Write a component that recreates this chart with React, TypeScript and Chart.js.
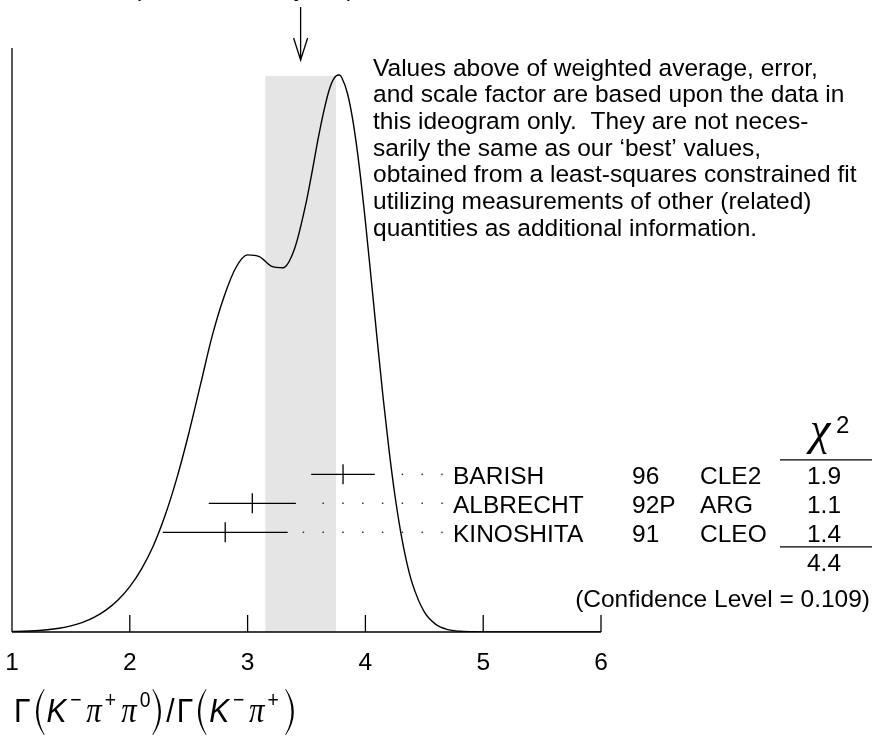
import React, { useEffect, useRef } from "react";
import { Chart, registerables } from "chart.js";

Chart.register(...registerables);

// ---------------- data ----------------
const curveX = [
  1.0, 1.1, 1.2, 1.3, 1.4, 1.5, 1.6, 1.7, 1.8, 1.9, 2.0, 2.1, 2.2, 2.3, 2.4, 2.5,
  2.6, 2.7, 2.8, 2.9, 3.0, 3.1, 3.2, 3.3, 3.4, 3.5, 3.55, 3.6, 3.65, 3.7, 3.75,
  3.78, 3.8, 3.85, 3.9, 3.95, 4.0, 4.05, 4.1, 4.15, 4.2, 4.25, 4.3, 4.35, 4.4,
  4.5, 4.6, 4.7, 4.8, 4.9, 5.0, 5.5, 6.0,
];
const curveY = [
  0.001, 0.0013, 0.0023, 0.004, 0.0068, 0.011, 0.0174, 0.0267, 0.0397, 0.0575,
  0.0815, 0.1135, 0.155, 0.2095, 0.2767, 0.356, 0.444, 0.532, 0.602, 0.654,
  0.677, 0.674, 0.657, 0.654, 0.689, 0.774, 0.829, 0.887, 0.938, 0.978, 0.998,
  1.0, 0.995, 0.965, 0.91, 0.832, 0.737, 0.632, 0.525, 0.4215, 0.328, 0.246,
  0.179, 0.126, 0.086, 0.036, 0.0133, 0.0043, 0.0013, 0.0004, 0.0001, 0, 0,
];
const tickValues = [1, 2, 3, 4, 5, 6];

const weightedAverage = 3.45;
const weightedError = 0.3;
const errorScale = 1.4;

const measNames = ["BARISH", "ALBRECHT", "KINOSHITA"];
const measYears = ["96", "92P", "91"];
const measTech = ["CLE2", "ARG", "CLEO"];
const measValue = [3.81, 3.04, 2.81];
const measError = [0.27, 0.37, 0.53];
const measChi2 = ["1.9", "1.1", "1.4"];
const chi2Total = "4.4";
const confidenceLevel = "0.109";

const noteLines = [
  "Values above of weighted average, error,",
  "and scale factor are based upon the data in",
  "this ideogram only.  They are not neces-",
  "sarily the same as our \u2018best\u2019 values,",
  "obtained from a least-squares constrained fit",
  "utilizing measurements of other (related)",
  "quantities as additional information.",
];

// ---------------- styles ----------------
const SANS = '"Liberation Sans", Arial, Helvetica, sans-serif';
const SERIF = '"Liberation Serif", "Times New Roman", serif';
const FS = 24.5;

function drawParen(ctx: CanvasRenderingContext2D, x: number, top: number, bottom: number, left: boolean) {
  const mid = (top + bottom) / 2;
  ctx.beginPath();
  if (left) {
    ctx.moveTo(x + 12, top);
    ctx.quadraticCurveTo(x - 6, mid, x + 12, bottom);
    ctx.lineTo(x + 12.8, bottom);
    ctx.quadraticCurveTo(x - 1.5, mid, x + 12.8, top);
  } else {
    ctx.moveTo(x, top);
    ctx.quadraticCurveTo(x + 18, mid, x, bottom);
    ctx.lineTo(x - 0.8, bottom);
    ctx.quadraticCurveTo(x + 13.5, mid, x - 0.8, top);
  }
  ctx.closePath();
  ctx.fill();
}

const ideogramPlugin = {
  id: "ideogram",
  beforeDatasetsDraw(chart: any) {
    const { ctx, chartArea } = chart;
    const xs = chart.scales.x;
    const ys = chart.scales.y;
    const x0 = xs.getPixelForValue(weightedAverage - weightedError);
    const x1 = xs.getPixelForValue(weightedAverage + weightedError);
    const top = ys.getPixelForValue(Math.max(...curveY)) + 1;
    ctx.save();
    ctx.fillStyle = "#e5e5e5";
    ctx.fillRect(x0, top, x1 - x0, chartArea.bottom - top);
    ctx.restore();
  },
  afterDatasetsDraw(chart: any) {
    const { ctx, chartArea } = chart;
    const xs = chart.scales.x;
    const ys = chart.scales.y;
    const yr = chart.scales.yRow;
    const bottom = chartArea.bottom;
    const left = chartArea.left;
    const right = chartArea.right;

    ctx.save();
    ctx.strokeStyle = "#000";
    ctx.fillStyle = "#000";
    ctx.lineWidth = 1.3;
    ctx.lineCap = "butt";

    // axes
    ctx.beginPath();
    ctx.moveTo(left, bottom);
    ctx.lineTo(right, bottom);
    ctx.moveTo(left, 48);
    ctx.lineTo(left, bottom);
    tickValues.forEach((v) => {
      if (v <= xs.min) return;
      const px = xs.getPixelForValue(v);
      ctx.moveTo(px, bottom);
      ctx.lineTo(px, bottom - 17);
    });
    ctx.stroke();

    ctx.font = `${FS}px ${SANS}`;
    ctx.textAlign = "center";
    ctx.textBaseline = "alphabetic";
    tickValues.forEach((v) => {
      ctx.fillText(String(v), xs.getPixelForValue(v), bottom + 38);
    });

    // arrow at weighted average
    const ax = xs.getPixelForValue(weightedAverage);
    const bandTop = ys.getPixelForValue(Math.max(...curveY)) + 1;
    const tipY = bandTop - 16;
    ctx.beginPath();
    ctx.moveTo(ax, 7);
    ctx.lineTo(ax, tipY);
    ctx.moveTo(ax - 7, tipY - 22);
    ctx.lineTo(ax, tipY);
    ctx.lineTo(ax + 7, tipY - 22);
    ctx.stroke();

    // title line (cut off at top edge)
    ctx.textAlign = "left";
    const prefix = `${weightedAverage.toFixed(2)}\u00b1${weightedError.toFixed(2)} `;
    const pw = ctx.measureText(prefix).width;
    ctx.fillText(`${prefix}(Error scaled by ${errorScale})`, 133 - pw, -4.5);

    // note text
    noteLines.forEach((line, i) => {
      ctx.fillText(line, 373, 75.5 + i * 26.7);
    });

    // measurements
    measValue.forEach((v, i) => {
      const py = yr.getPixelForValue(i);
      const lx = xs.getPixelForValue(v - measError[i]);
      const rx = xs.getPixelForValue(v + measError[i]);
      const cx = xs.getPixelForValue(v);
      ctx.beginPath();
      ctx.moveTo(lx, py);
      ctx.lineTo(rx, py);
      ctx.moveTo(cx, py - 10);
      ctx.lineTo(cx, py + 10);
      ctx.stroke();

      // dotted leader
      ctx.fillStyle = "#333";
      for (let k = 0; k < 20; k++) {
        const dx = 442 - 19.8 * k;
        if (dx < rx + 10) break;
        ctx.fillRect(dx - 0.75, py - 0.75, 1.5, 1.5);
      }
      ctx.fillStyle = "#000";

      const by = py + 9.5;
      ctx.textAlign = "left";
      ctx.fillText(measNames[i], 453, by);
      ctx.fillText(measYears[i], 632, by);
      ctx.fillText(measTech[i], 700, by);
      ctx.textAlign = "center";
      ctx.fillText(measChi2[i], 824, by);
    });

    // chi-square header and total
    const r0 = yr.getPixelForValue(0);
    const rStep = yr.getPixelForValue(1) - r0;
    ctx.font = `italic 46px ${SERIF}`;
    ctx.textAlign = "center";
    ctx.fillText("\u03c7", 820, r0 - rStep * 1.0 - 1);
    ctx.font = `24px ${SANS}`;
    ctx.textAlign = "left";
    ctx.fillText("2", 836, r0 - rStep * 1.45 + 1);

    ctx.beginPath();
    ctx.moveTo(780, r0 - rStep * 0.5);
    ctx.lineTo(872, r0 - rStep * 0.5);
    ctx.moveTo(780, r0 + rStep * 2.5);
    ctx.lineTo(872, r0 + rStep * 2.5);
    ctx.stroke();

    ctx.font = `${FS}px ${SANS}`;
    ctx.textAlign = "center";
    ctx.fillText(chi2Total, 824, r0 + rStep * 3 + 9.5);
    ctx.textAlign = "right";
    ctx.fillText(`(Confidence Level = ${confidenceLevel})`, 870, r0 + rStep * 4.25 + 9.5);

    // x-axis title: Γ(K⁻π⁺π⁰)/Γ(K⁻π⁺), horizontally condensed
    ctx.save();
    ctx.translate(14, 0);
    ctx.scale(0.88, 1);
    const base = 722;
    const supBase = 707;
    const pTop = 689;
    const pBot = 735;
    const big = `34px ${SANS}`;
    const bigIt = `italic 34px ${SANS}`;
    const piF = `italic 35px ${SERIF}`;
    const sup = `22px ${SANS}`;
    ctx.textAlign = "left";
    const put = (t: string, f: string, x: number, y: number) => {
      ctx.font = f;
      ctx.fillText(t, x, y);
    };
    put("\u0393", big, 0, base);
    drawParen(ctx, 22, pTop, pBot, true);
    put("K", bigIt, 37, base);
    put("\u2212", sup, 64, supBase);
    put("\u03c0", piF, 82, base);
    put("+", sup, 103, supBase);
    put("\u03c0", piF, 122, base);
    put("0", sup, 143, supBase);
    drawParen(ctx, 158, pTop, pBot, false);
    put("/", big, 173, base);
    put("\u0393", big, 185, base);
    drawParen(ctx, 206, pTop, pBot, true);
    put("K", bigIt, 222, base);
    put("\u2212", sup, 249, supBase);
    put("\u03c0", piF, 267, base);
    put("+", sup, 288, supBase);
    drawParen(ctx, 309, pTop, pBot, false);
    ctx.restore();

    ctx.restore();
  },
};

export default function App() {
  const ref = useRef<HTMLCanvasElement | null>(null);

  useEffect(() => {
    document.body.style.margin = "0";
    const canvas = ref.current;
    if (!canvas) return;
    const chart = new Chart(canvas, {
      type: "line",
      data: {
        datasets: [
          {
            data: curveX.map((x, i) => ({ x, y: curveY[i] })),
            borderColor: "#000",
            borderWidth: 1.4,
            pointRadius: 0,
            fill: false,
            cubicInterpolationMode: "monotone",
          },
        ],
      },
      options: {
        responsive: false,
        animation: false,
        events: [],
        layout: { padding: { left: 12, right: 271, top: 32, bottom: 104 } },
        scales: {
          x: { type: "linear", min: 1, max: 6, display: false },
          y: { type: "linear", min: 0, max: 1.0772, display: false },
          yRow: { type: "linear", min: -15.252, max: 5.438, reverse: true, display: false },
        },
        plugins: { legend: { display: false }, tooltip: { enabled: false } },
      },
      plugins: [ideogramPlugin],
    } as any);
    return () => chart.destroy();
  }, []);

  return (
    <div style={{ width: 872, height: 736 }}>
      <canvas ref={ref} width={872} height={736} style={{ display: "block" }} />
    </div>
  );
}
